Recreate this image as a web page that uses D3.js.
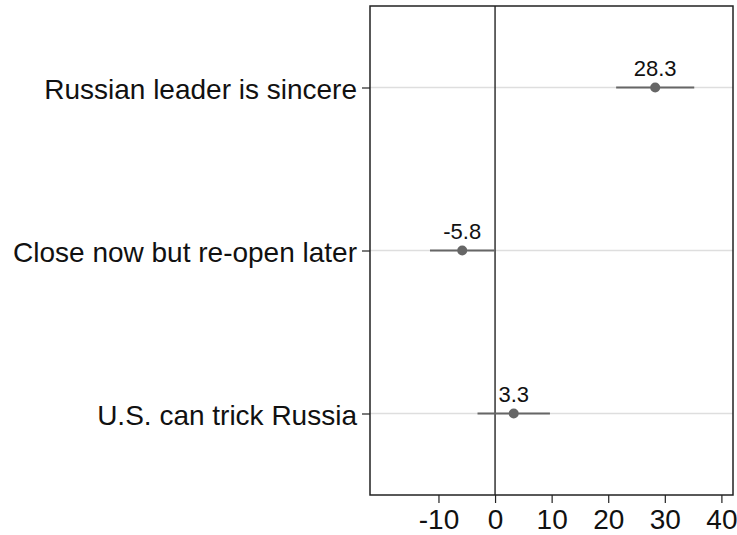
<!DOCTYPE html>
<html><head><meta charset="utf-8">
<script src="https://cdn.jsdelivr.net/npm/d3@7"></script>
<style>body{margin:0;background:#fff}svg{display:block}</style>
</head><body><svg id="c" width="737" height="535"></svg>
<script>
const categories = ["Russian leader is sincere", "Close now but re-open later", "U.S. can trick Russia"];
const estimates = [28.3, -5.8, 3.3];
const ciLow = [21.4, -11.5, -3.1];
const ciHigh = [35.2, -0.1, 9.7];
const xTicks = [-10, 0, 10, 20, 30, 40];

const svg = d3.select("#c");
const L = 370, R = 733, T = 6, B = 495;
const x = d3.scaleLinear().domain([-22.1, 42.05]).range([L, R]);
const y = d3.scalePoint().domain(categories).range([T, B]).padding(0.5);
const font = "Liberation Sans, Arial, Helvetica, sans-serif";

// gridlines
svg.append("g").selectAll("line").data(categories).join("line")
  .attr("x1", L).attr("x2", R).attr("y1", d => y(d)).attr("y2", d => y(d))
  .attr("stroke", "#dedede").attr("stroke-width", 1.5);

// zero line
svg.append("line").attr("x1", x(0)).attr("x2", x(0)).attr("y1", T).attr("y2", B)
  .attr("stroke", "#333").attr("stroke-width", 1.5);

// CIs
const rows = categories.map((c, i) => ({c, est: estimates[i], lo: ciLow[i], hi: ciHigh[i]}));
svg.append("g").selectAll("line").data(rows).join("line")
  .attr("x1", d => x(d.lo)).attr("x2", d => x(d.hi))
  .attr("y1", d => y(d.c)).attr("y2", d => y(d.c))
  .attr("stroke", "#666").attr("stroke-width", 2);
svg.append("g").selectAll("circle").data(rows).join("circle")
  .attr("cx", d => x(d.est)).attr("cy", d => y(d.c)).attr("r", 5)
  .attr("fill", "#666");
svg.append("g").selectAll("text").data(rows).join("text")
  .attr("x", d => x(d.est)).attr("y", d => y(d.c) - 12)
  .attr("text-anchor", "middle").attr("font-family", font).attr("font-size", 22)
  .attr("fill", "#111").text(d => d.est.toFixed(1));

// box
svg.append("rect").attr("x", L).attr("y", T).attr("width", R - L).attr("height", B - T)
  .attr("fill", "none").attr("stroke", "#222").attr("stroke-width", 1.5);

// x axis
const xa = svg.append("g").attr("transform", `translate(0,${B})`)
  .call(d3.axisBottom(x).tickValues(xTicks).tickSize(8).tickPadding(6).tickFormat(d => String(d)));
xa.select(".domain").remove();
xa.selectAll("line").attr("stroke", "#222").attr("stroke-width", 1.2);
xa.selectAll("text").attr("font-family", font).attr("font-size", 28).attr("fill", "#111");

// y axis
const ya = svg.append("g").attr("transform", `translate(${L},0)`)
  .call(d3.axisLeft(y).tickSize(8).tickPadding(5));
ya.select(".domain").remove();
ya.selectAll("line").attr("stroke", "#222").attr("stroke-width", 1.2);
ya.selectAll("text").attr("font-family", font).attr("font-size", 28).attr("fill", "#111").attr("dy", "0.38em");
</script></body></html>
